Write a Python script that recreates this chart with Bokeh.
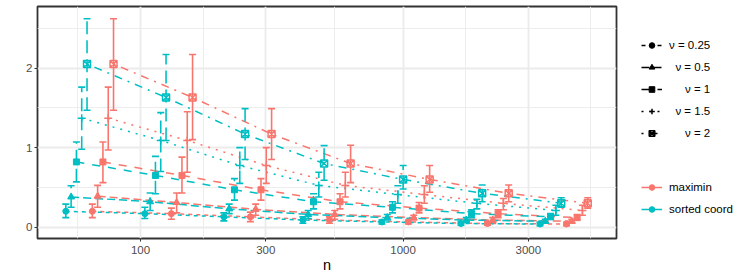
import numpy as np
from bokeh.plotting import figure
from bokeh.layouts import row
from bokeh.models import (ColumnDataSource, Range1d, FixedTicker, Whisker, TeeHead,
                          Legend, LegendItem)
from bokeh.embed import file_html
from bokeh.resources import INLINE

# ---------------- data ----------------
n_values = [64, 128, 256, 512, 1024, 2048, 4096]
nu_labels = ["ν = 0.25", "\u2007ν = 0.5", "\u2007\u2007\u2008ν = 1", "\u2007ν = 1.5", "\u2007\u2007\u2008ν = 2"]
methods = ["maximin", "sorted coord"]

# rows: nu = 0.25, 0.5, 1, 1.5, 2 ; columns: n_values
sc_mean = [
    [0.20, 0.17, 0.13, 0.09, 0.066, 0.046, 0.04],
    [0.38, 0.32, 0.23, 0.16, 0.12, 0.09, 0.075],
    [0.82, 0.65, 0.47, 0.32, 0.25, 0.17, 0.13],
    [1.37, 1.09, 0.775, 0.525, 0.41, 0.30, 0.21],
    [2.05, 1.63, 1.17, 0.80, 0.60, 0.425, 0.30],
]
sc_lower = [
    [0.12, 0.11, 0.08, 0.05, 0.04, 0.025, 0.02],
    [0.25, 0.21, 0.17, 0.11, 0.09, 0.06, 0.05],
    [0.57, 0.42, 0.34, 0.23, 0.18, 0.12, 0.10],
    [0.98, 0.70, 0.55, 0.38, 0.30, 0.23, 0.15],
    [1.47, 1.09, 0.85, 0.59, 0.48, 0.32, 0.25],
]
sc_upper = [
    [0.29, 0.25, 0.18, 0.13, 0.09, 0.07, 0.06],
    [0.52, 0.43, 0.29, 0.21, 0.16, 0.12, 0.10],
    [1.07, 0.89, 0.61, 0.42, 0.32, 0.22, 0.17],
    [1.76, 1.44, 1.00, 0.69, 0.52, 0.35, 0.275],
    [2.62, 2.17, 1.49, 1.025, 0.775, 0.53, 0.37],
]
mm_mean = [
    [0.20, 0.17, 0.13, 0.09, 0.066, 0.046, 0.04],
    [0.39, 0.31, 0.225, 0.16, 0.12, 0.09, 0.075],
    [0.82, 0.65, 0.47, 0.32, 0.24, 0.17, 0.12],
    [1.37, 1.09, 0.775, 0.525, 0.41, 0.30, 0.21],
    [2.05, 1.63, 1.17, 0.80, 0.60, 0.425, 0.30],
]
mm_lower = [
    [0.12, 0.10, 0.07, 0.05, 0.04, 0.025, 0.02],
    [0.25, 0.18, 0.15, 0.10, 0.09, 0.06, 0.05],
    [0.56, 0.43, 0.34, 0.23, 0.18, 0.12, 0.09],
    [0.97, 0.69, 0.55, 0.38, 0.30, 0.22, 0.15],
    [1.47, 1.10, 0.85, 0.56, 0.44, 0.32, 0.24],
]
mm_upper = [
    [0.29, 0.24, 0.19, 0.13, 0.09, 0.07, 0.06],
    [0.525, 0.43, 0.29, 0.21, 0.15, 0.12, 0.10],
    [1.07, 0.88, 0.61, 0.42, 0.31, 0.22, 0.16],
    [1.76, 1.45, 1.00, 0.69, 0.52, 0.36, 0.275],
    [2.62, 2.17, 1.49, 1.03, 0.775, 0.53, 0.37],
]

x_ticks = [100, 300, 1000, 3000]
x_tick_labels = ["100", "300", "1000", "3000"]
y_ticks = [0, 1, 2]

# ---------------- styles ----------------
RED = "#F8766D"
TEAL = "#00BFC4"
FONT = "Liberation Sans"
nu_dash = ["4 4", "8 4", "8 8", "2 6", "2 6 8 6"]
nu_marker = ["circle", "triangle", "square", "cross", "square_x"]
nu_size = [6, 7, 6, 8, 7]
dodge_step = 0.0202

p = figure(width=618, height=280, x_axis_type="log",
           x_range=Range1d(40.5, 6500), y_range=Range1d(-0.142, 2.773),
           output_backend="svg", toolbar_location=None,
           min_border_left=37, min_border_right=2, min_border_top=6, min_border_bottom=42)
p.background_fill_color = "white"
p.border_fill_color = "white"
p.outline_line_color = "#333333"
p.outline_line_width = 1.8

# ticks / grid
log_ticks = np.log10(x_ticks)
mids = list(10 ** ((log_ticks[:-1] + log_ticks[1:]) / 2))
x_minor = [10 ** (log_ticks[0] - (log_ticks[1] - log_ticks[0]) / 2)] + mids + \
          [10 ** (log_ticks[-1] + (log_ticks[-1] - log_ticks[-2]) / 2)]
xt = FixedTicker(ticks=x_ticks, minor_ticks=x_minor)
yt = FixedTicker(ticks=y_ticks, minor_ticks=[t + 0.5 for t in y_ticks])
p.xaxis.ticker = xt
p.yaxis.ticker = yt
p.xgrid.ticker = xt
p.ygrid.ticker = yt
p.xaxis.major_label_overrides = {t: l for t, l in zip(x_ticks, x_tick_labels)}
for g in (p.xgrid, p.ygrid):
    g.grid_line_color = "#EBEBEB"
    g.grid_line_width = 1.8
    g.minor_grid_line_color = "#EBEBEB"
    g.minor_grid_line_width = 0.9
for ax in (p.xaxis, p.yaxis):
    ax.axis_line_color = None
    ax.major_tick_line_color = "#333333"
    ax.major_tick_line_width = 1
    ax.major_tick_out = 3
    ax.major_tick_in = 0
    ax.minor_tick_out = 0
    ax.minor_tick_in = 0
    ax.major_label_text_font = FONT
    ax.major_label_text_font_size = "11.5px"
    ax.major_label_text_color = "#4D4D4D"
p.xaxis.major_label_standoff = 4
p.yaxis.major_label_standoff = 2
p.xaxis.axis_label = "n"
p.xaxis.axis_label_text_font = FONT
p.xaxis.axis_label_text_font_style = "normal"
p.xaxis.axis_label_text_font_size = "14.5px"
p.xaxis.axis_label_text_color = "black"
p.xaxis.axis_label_standoff = 0

# ---------------- series ----------------
series = [
    ("maximin", mm_mean, mm_lower, mm_upper, RED, 5, None),
    ("sorted coord", sc_mean, sc_lower, sc_upper, TEAL, 0, "13 6"),
]
for name, mean, lo, hi, color, slot0, err_dash in series:
    xs_all, lo_all, hi_all = [], [], []
    for j in range(5):
        offset = (slot0 + j - 4.5) * dodge_step
        xs = [n * 10 ** offset for n in n_values]
        p.line(xs, mean[j], line_color=color, line_width=1.5, line_dash=nu_dash[j])
        xs_all += xs
        lo_all += lo[j]
        hi_all += hi[j]
    src = ColumnDataSource(dict(x=xs_all, lo=lo_all, hi=hi_all))
    wk = Whisker(source=src, base="x", lower="lo", upper="hi", dimension="height",
                 line_color=color, line_width=1.6,
                 upper_head=TeeHead(size=7, line_color=color, line_width=1.6),
                 lower_head=TeeHead(size=7, line_color=color, line_width=1.6))
    if err_dash:
        wk.line_dash = err_dash
    wk.level = "glyph"
    p.add_layout(wk)

for name, mean, lo, hi, color, slot0, err_dash in series:
    for j in range(5):
        offset = (slot0 + j - 4.5) * dodge_step
        xs = [n * 10 ** offset for n in n_values]
        if nu_marker[j] in ("cross", "square_x"):
            p.scatter(xs, mean[j], marker=nu_marker[j], size=nu_size[j],
                      line_color=color, fill_color=None, line_width=1.5)
        else:
            p.scatter(xs, mean[j], marker=nu_marker[j], size=nu_size[j],
                      line_color=color, fill_color=color, line_width=1)

# ---------------- legend panel (separate figure) ----------------
q = figure(width=129, height=280, output_backend="svg", toolbar_location=None,
           x_range=Range1d(0, 1), y_range=Range1d(0, 1),
           min_border_left=0, min_border_right=0, min_border_top=0, min_border_bottom=0,
           x_axis_location=None, y_axis_location=None)
q.grid.visible = False
q.outline_line_color = None
q.background_fill_color = "white"
q.border_fill_color = "white"

nan = [np.nan]
nu_items = []
for j in range(5):
    lr = q.line(nan, nan, line_color="black", line_width=1.5, line_dash=nu_dash[j])
    if nu_marker[j] in ("cross", "square_x"):
        sr = q.scatter(nan, nan, marker=nu_marker[j], size=nu_size[j], line_color="black",
                       fill_color=None, line_width=1.5)
    else:
        sr = q.scatter(nan, nan, marker=nu_marker[j], size=nu_size[j], line_color="black",
                       fill_color="black")
    nu_items.append(LegendItem(label=nu_labels[j], renderers=[lr, sr]))

col_items = []
for name, color in zip(methods, [RED, TEAL]):
    lr = q.line(nan, nan, line_color=color, line_width=1.5)
    sr = q.scatter(nan, nan, marker="circle", size=6, line_color=color, fill_color=color)
    col_items.append(LegendItem(label=name, renderers=[lr, sr]))


def style(leg):
    leg.border_line_color = None
    leg.background_fill_alpha = 0
    leg.padding = 0
    leg.margin = 0
    leg.spacing = 2
    leg.glyph_width = 21
    leg.glyph_height = 14
    leg.label_height = 20
    leg.label_standoff = 7
    leg.label_text_font = FONT
    leg.label_text_font_size = "11.5px"
    leg.label_text_color = "black"


leg1 = Legend(items=nu_items, location=(23, 95))
leg2 = Legend(items=col_items, location=(23, 19))
style(leg1)
style(leg2)
q.add_layout(leg1)
q.add_layout(leg2)

layout = row(p, q)
open("out.html", "w").write(file_html(layout, INLINE))
